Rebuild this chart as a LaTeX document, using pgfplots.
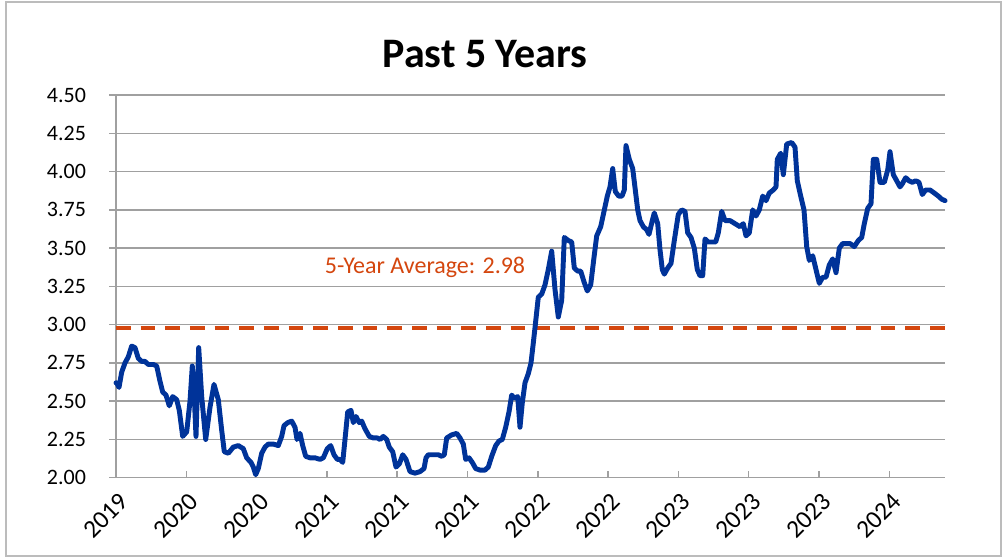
\documentclass[border=0pt]{standalone}
\usepackage{pgfplots}
\pgfplotsset{compat=1.18}
\usepackage{fontspec}
\setmainfont{Carlito}
\definecolor{lineblue}{RGB}{0,51,153}
\definecolor{avgred}{RGB}{212,70,14}
\definecolor{gridgray}{RGB}{160,160,160}
\begin{document}
\begin{tikzpicture}
\begin{axis}[
  at={(0,0)}, anchor=south west,
  scale only axis, width=621.75pt, height=287pt,
  xmin=116, xmax=945, ymin=2, ymax=4.5,
  clip=false,
  axis x line*=bottom, axis y line*=left,
  axis line style={gridgray, line width=1.1pt, -},
  ytick={2,2.25,...,4.5},
  ymajorgrids, grid style={gridgray, line width=1.1pt},
  xtick={116,186.3,256.6,326.9,397.2,467.5,537.8,608.1,678.4,748.7,819,889.3},
  xticklabels={2019,2020,2020,2021,2021,2021,2022,2022,2023,2023,2023,2024},
  xtick align=inside, ytick align=outside,
  major tick length=5pt,
  tick style={gridgray, line width=1.1pt},
  tick label style={font=\fontsize{16.5}{18}\selectfont, black},
  xticklabel style={font=\fontsize{19}{21}\selectfont, rotate=45, anchor=north east, inner sep=0pt, yshift=-8pt, xshift=-6pt},
  yticklabel style={xshift=-14pt, /pgf/number format/.cd, fixed, fixed zerofill, precision=2, /pgf/number format/assume math mode=true},
]
\addplot[avgred, line width=3pt, dash pattern=on 11pt off 7.5pt] coordinates {(116,2.98) (945,2.98)};
\addplot[lineblue, line width=3.7pt, line join=round, line cap=round] coordinates {
(116,2.62) (116.7,2.62) (119,2.59) (121.7,2.69) (125,2.75) (128.3,2.79) (131.7,2.86) (135,2.85) (138.3,2.78) (141.7,2.76) (145,2.76) (148.3,2.74) (153.3,2.74) (156.7,2.73) (160,2.63) (162.7,2.56) (166,2.54) (169.3,2.47) (172.7,2.53) (176.7,2.51) (179.3,2.44) (182.7,2.27) (186.7,2.30) (190,2.50) (192.3,2.73) (194.3,2.53) (196,2.27) (198.7,2.85) (201.7,2.53) (205.7,2.25) (210,2.46) (214,2.61)
(218.3,2.51) (221.7,2.31) (224.3,2.17) (228.3,2.16) (233.3,2.20) (238.3,2.21) (243.3,2.19) (246.7,2.13) (251,2.10) (253.3,2.07) (255.7,2.02) (258.3,2.06) (261.7,2.16) (265,2.20) (268.3,2.22) (273.3,2.22) (278.3,2.21) (281.7,2.27) (284,2.34) (287.7,2.36) (291.7,2.37) (295,2.33) (297,2.25) (300,2.29) (302.7,2.21) (305.7,2.14) (310,2.13) (315,2.13) (320,2.12)
(323.3,2.13) (327.3,2.19) (330.7,2.21) (334,2.15) (337.3,2.12) (340,2.12) (342.7,2.10) (345,2.25) (347.7,2.43) (351,2.44) (353.3,2.36) (356,2.40) (359.3,2.36) (361.7,2.37) (365,2.32) (369.3,2.27) (373.3,2.26) (377.3,2.26) (380,2.25) (383.3,2.27) (386.7,2.25) (389.3,2.20) (392.7,2.17) (396,2.07) (399.3,2.09) (402.7,2.15) (406,2.12) (410,2.04) (415,2.03) (420,2.04) (424,2.06) (426,2.13)
(428.3,2.15) (435,2.15) (438.3,2.15) (441.7,2.14) (444.3,2.15) (446.7,2.26) (451.7,2.28) (456.7,2.29) (460,2.26) (463.3,2.22) (465.7,2.12) (469,2.13) (472.3,2.10) (475.7,2.06) (480,2.05) (485,2.05) (488.3,2.07) (491.7,2.14) (495.7,2.21) (499,2.24) (502.3,2.25) (505.7,2.33) (509,2.43) (511.7,2.54) (514.3,2.52) (517.7,2.53) (520,2.33) (522.3,2.49) (525,2.62) (528.3,2.68) (531,2.75) (533.3,2.88)
(535,2.98) (538.3,3.18) (541.7,3.20) (545,3.26) (548.3,3.36) (551.7,3.48) (555,3.23) (558.3,3.05) (561.7,3.16) (564.3,3.57) (568.3,3.55) (571.7,3.54) (574.3,3.37) (577.7,3.35) (580.7,3.35) (584,3.28) (587.3,3.22) (590.7,3.26) (594,3.44) (596.7,3.58) (600.7,3.64) (604,3.74) (607.3,3.84) (610,3.90) (612.7,4.02) (615.3,3.87) (618.7,3.84) (622,3.84) (624.3,3.88) (626,4.17) (629.3,4.08) (632.7,4.02)
(637.7,3.75) (640,3.68) (643.3,3.64) (646.7,3.62) (649,3.59) (652.3,3.68) (654.3,3.73) (657.7,3.66) (660,3.49) (662.3,3.36) (664.3,3.33) (667.7,3.37) (671,3.40) (674.3,3.55) (678.3,3.72) (681.7,3.75) (685,3.74) (687.7,3.60) (691,3.57) (694.3,3.50) (697.3,3.36) (700,3.32) (702.7,3.32) (705,3.56) (708.3,3.54) (712.3,3.54) (715.7,3.54) (718.3,3.60) (721.7,3.74) (725,3.68) (730,3.68) (735,3.66) (740,3.64) (743.3,3.66)
(746,3.58) (749.3,3.60) (752.7,3.75) (756,3.71) (759.3,3.75) (762.7,3.84) (766,3.81) (769.3,3.86) (773.3,3.88) (776,3.90) (777.3,4.08) (780.7,4.12) (783.3,3.98) (786.7,4.18) (791.7,4.19) (795,4.16) (797.3,3.94) (800.7,3.84) (804,3.75) (806.7,3.51) (809.3,3.42) (812.7,3.45) (816,3.36) (819.3,3.27) (822.7,3.31) (826,3.31) (829.3,3.39) (832.7,3.43) (836,3.34) (839.3,3.50) (842.7,3.53) (847.3,3.53)
(850,3.53) (854.3,3.51) (858.3,3.55) (861.7,3.57) (864.3,3.66) (867.7,3.76) (871,3.79) (873.3,4.08) (876.7,4.08) (880,3.93) (884.3,3.93) (887.7,4.01) (890,4.13) (893.3,3.98) (896.7,3.94) (900,3.90) (902.3,3.92) (905.7,3.96) (909,3.94) (912.3,3.93) (915.7,3.94) (919,3.93) (922.3,3.85) (925.7,3.88) (930,3.88) (934.3,3.86) (938.3,3.84) (941.7,3.82) (945,3.81)
};
\node[avgred, anchor=base, font=\fontsize{18}{20}\selectfont, inner sep=0pt] at (axis cs:425,3.337) {5-Year Average: 2.98};
\node[anchor=base, font=\bfseries\fontsize{31.5}{36}\selectfont, inner sep=0pt] at (rel axis cs:0.445,1.073) {Past 5 Years};
\end{axis}
\pgfresetboundingbox
\draw[gridgray!70, line width=0.8pt] (-82.5pt,-58.7pt) rectangle (663.75pt,356.8pt);
\useasboundingbox (-87pt,-60.2pt) rectangle (667.5pt,358.3pt);
\end{tikzpicture}
\end{document}
